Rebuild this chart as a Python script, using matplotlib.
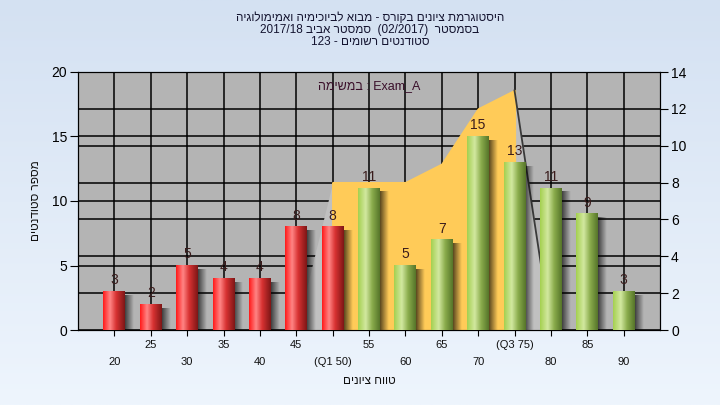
import numpy as np
import matplotlib
matplotlib.use("Agg")
import matplotlib.pyplot as plt
from matplotlib.colors import to_rgb

plt.rcParams['font.family'] = ['Liberation Sans', 'DejaVu Sans']


def heb(s):
    # matplotlib has no bidi support, so Hebrew runs are written in visual order
    return s[::-1]


# data
categories = [20, 25, 30, 35, 40, 45, 50, 55, 60, 65, 70, 75, 80, 85, 90]
counts = [3, 2, 5, 4, 4, 8, 8, 11, 5, 7, 15, 13, 11, 9, 3]
tick_labels = ['20', '25', '30', '35', '40', '45', '(Q1 50)', '55', '60', '65',
               '70', '(Q3 75)', '80', '85', '90']
fail_limit = 50           # bars up to this grade are red
q1_grade, q3_grade = 50, 75
area_grades = [45, 50, 55, 60, 65, 70, 75, 80]
area_vals = [0, 8, 8, 8, 9, 12, 13, 0]   # right axis

title_lines = [
    heb("היסטוגרמת ציונים בקורס - מבוא לביוכימיה ואמימולוגיה"),
    "2017/18 " + heb("סמסטר אביב") + "  (02/2017)  " + heb("בסמסטר"),
    "123 - " + heb("סטודנטים רשומים"),
]
note = heb("במשימה") + " : Exam_A"
ylabel = heb("מספר סטודנטים")
xlabel = heb("טווח ציונים")

fig = plt.figure(figsize=(7.2, 4.05), dpi=100)

# background gradient
bg = fig.add_axes([0, 0, 1, 1], zorder=-10)
top_c, bot_c = np.array(to_rgb('#d4e1f2')), np.array(to_rgb('#eef5fd'))
t = np.linspace(0, 1, 256)[:, None]
grad = top_c[None, None, :] * (1 - t[..., None]) + bot_c[None, None, :] * t[..., None]
bg.imshow(np.repeat(grad, 2, axis=1), aspect='auto', extent=(0, 1, 0, 1))
bg.axis('off')

pos = [78 / 720, 1 - 330 / 405, (660 - 78) / 720, (330 - 72) / 405]
ax = fig.add_axes(pos)
ax.set_facecolor('#b4b4b4')
x = np.arange(len(categories))
xlim = (-1, len(categories))
ax.set_xlim(*xlim)
ax.set_ylim(0, 20)
ax.set_yticks([0, 5, 10, 15, 20])
ax.set_xticks(x)
ax.set_xticklabels([])
ax.grid(True, color='black', linewidth=1.1)
ax.set_axisbelow(True)
ax.tick_params(axis='y', direction='out', length=6, labelsize=10, colors='black', pad=2)
ax.tick_params(axis='x', direction='out', length=4, colors='black')
for s in ax.spines.values():
    s.set_color('black')

# right axis and the IQR area
axr = ax.twinx()
axr.set_ylim(0, 14)
axr.set_yticks(range(0, 15, 2))
axr.tick_params(axis='y', direction='out', length=6, labelsize=10, colors='black', pad=2)
for v in range(2, 15, 2):
    axr.axhline(v, color='black', linewidth=1.1, zorder=0)
ax_x = [categories.index(g) for g in area_grades]
axr.fill_between(ax_x, area_vals, color='#c0c0c0', zorder=1, linewidth=0)
i1, i3 = area_grades.index(q1_grade), area_grades.index(q3_grade)
axr.fill_between(ax_x[i1:i3 + 1], area_vals[i1:i3 + 1], color='#ffcb58', zorder=2,
                 edgecolor='#ffcb58', linewidth=1.6)
axr.plot(ax_x[i3:i3 + 2], area_vals[i3:i3 + 2], color='#3a3a3a', linewidth=1.3, zorder=3)
for s in axr.spines.values():
    s.set_color('black')

# bars on their own layer so they sit above the area
axb = ax.twinx()
axb.set_ylim(0, 20)
axb.set_yticks([])
axb.patch.set_visible(False)
for s in axb.spines.values():
    s.set_visible(False)


def ramp(stops, n=64):
    xs = np.linspace(0, 1, n)
    pts = [p for p, _ in stops]
    cols = np.array([to_rgb(c) for _, c in stops])
    return np.stack([np.interp(xs, pts, cols[:, k]) for k in range(3)], axis=-1)[None]


red = ramp([(0, '#ff1a1a'), (0.32, '#ff8585'), (0.6, '#d83232'), (1, '#7e1616')])
green = ramp([(0, '#a4d050'), (0.35, '#d2e8a0'), (0.65, '#8aac4c'), (1, '#56752a')])
shadow = np.zeros((1, 32, 4))
shadow[..., 3] = np.linspace(0.65, 0.0, 32)

w = 0.6
for xi, c, v in zip(x, categories, counts):
    axb.imshow(shadow, aspect='auto', extent=(xi + w / 2, xi + w / 2 + 0.22, 0, v - 0.3),
               zorder=2, interpolation='bilinear')
    axb.imshow(red if c <= fail_limit else green, aspect='auto',
               extent=(xi - w / 2, xi + w / 2, 0, v), zorder=3, interpolation='bilinear')
    axb.annotate(str(v), (xi, v), xytext=(0, 3), textcoords='offset points',
                 ha='center', va='bottom', fontsize=10, color='#3a1c1c', zorder=4)
axb.set_xlim(*xlim)
axb.set_ylim(0, 20)

# two rows of grade labels
tr = ax.get_xaxis_transform()
for xi, lab in zip(x, tick_labels):
    yy = -0.124 if xi % 2 == 0 else -0.058
    ax.text(xi, yy, lab, transform=tr, ha='center', va='center', fontsize=8, color='#111111')

ax.text(0.5, -0.198, xlabel, transform=ax.transAxes, ha='center', va='center',
        fontsize=8.5, color='#111111')
ax.text(-0.072, 0.5, ylabel, transform=ax.transAxes, ha='center', va='center',
        rotation=90, fontsize=8.5, color='#111111')
axb.text(0.5, 0.946, note, transform=ax.transAxes, ha='center', va='center',
         fontsize=9, color='#3a0f2a', zorder=5)

for i, line in enumerate(title_lines):
    fig.text(370 / 720, 1 - (18 + 12 * i) / 405, line, ha='center', va='center',
             fontsize=8.5, color='#141430')

fig.savefig('out.png', dpi=100)
